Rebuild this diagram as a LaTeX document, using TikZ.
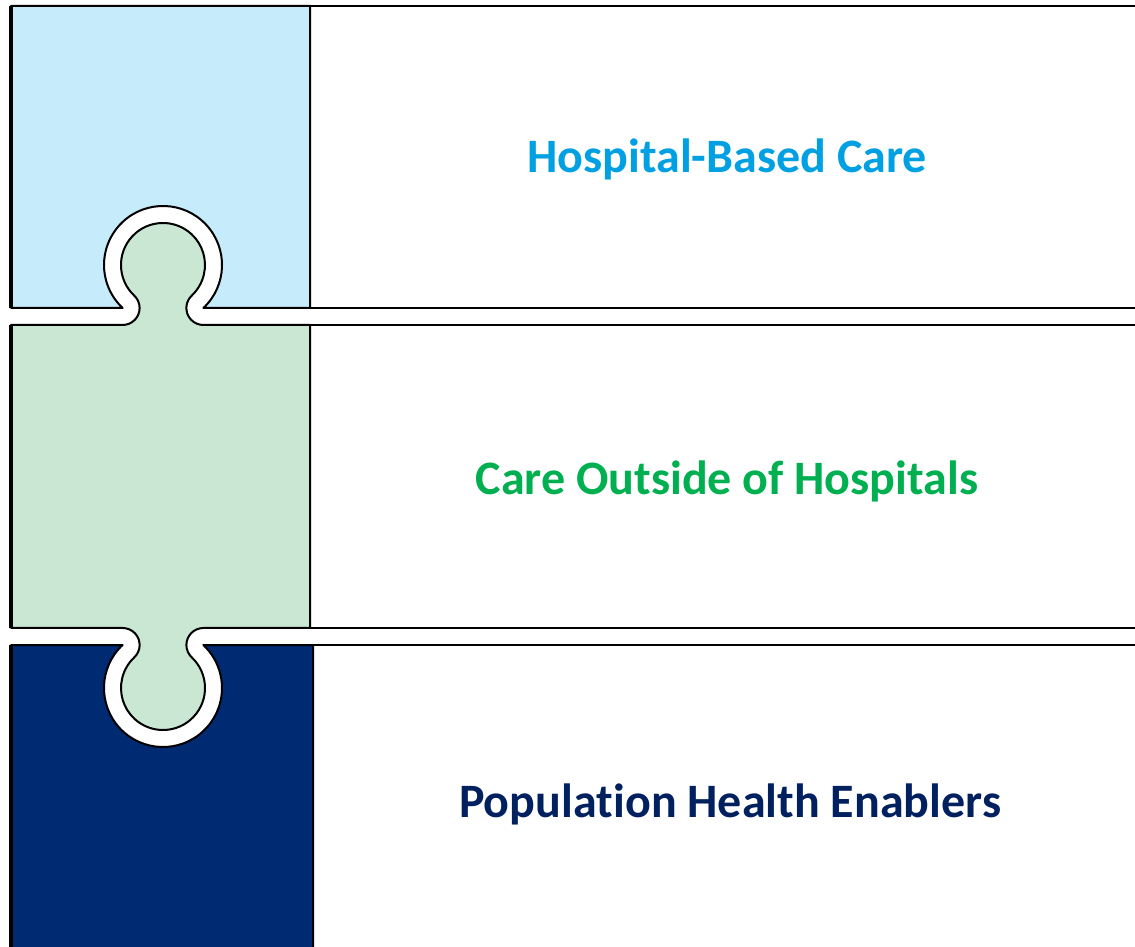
\documentclass[tikz,border=0pt]{standalone}
\usepackage{fontspec}
\setmainfont{Carlito}[Ligatures=NoCommon]
\usepackage{xcolor}
\usetikzlibrary{positioning}

\definecolor{hospblue}{RGB}{198,236,252}
\definecolor{caregreen}{RGB}{201,231,211}
\definecolor{popnavy}{RGB}{0,43,114}
\definecolor{hosptext}{RGB}{0,160,226}
\definecolor{caretext}{RGB}{0,176,80}
\definecolor{poptext}{RGB}{0,32,96}

\begin{document}
\begin{tikzpicture}[x=1pt, y=1pt,
        piece/.style={draw=black, line width=2pt, line join=round},
        band/.style={draw=black, line width=2pt},
        edge/.style={draw=black, line width=3.5pt},
        heading/.style={font=\fontsize{48}{52}\selectfont\bfseries, anchor=base},
    ]
    \useasboundingbox (0,0) rectangle (1135,946);
    \begin{scope}
        \clip (0,0) rectangle (1135,946);

        % Bands on the right
        \draw[band] (310,940) rectangle (1150,638);
        \draw[band] (310,621) rectangle (1150,318);
        \draw[band] (313,301) rectangle (1150,-10);

        % Top piece
        \draw[piece, fill=hospblue] (11,940) -- (310,940) -- (310,638) -- (203.4,638)
            arc[start angle=-46.8, end angle=226.8, radius=59] -- (11,638) -- cycle;

        % Middle piece
        \draw[piece, fill=caregreen] (11,621) -- (122.6,621)
            arc[start angle=-90, end angle=46.8, radius=17]
            arc[start angle=226.8, end angle=-46.8, radius=42]
            arc[start angle=133.2, end angle=270, radius=17]
            -- (310,621) -- (310,318) -- (203.4,318)
            arc[start angle=90, end angle=226.8, radius=17]
            arc[start angle=46.8, end angle=-226.8, radius=42]
            arc[start angle=-46.8, end angle=90, radius=17]
            -- (11,318) -- cycle;

        % Bottom piece
        \draw[piece, fill=popnavy] (11,-10) -- (11,301) -- (122.6,301)
            arc[start angle=133.2, end angle=406.8, radius=59]
            -- (313,301) -- (313,-10);

        % Left edges
        \draw[edge] (11,940) -- (11,638);
        \draw[edge] (11,621) -- (11,318);
        \draw[edge] (11,301) -- (11,-10);
    \end{scope}

    % Labels
    \node[heading, text=hosptext] (hospital) at (727,773) {Hospital-Based Care};
    \node[heading, text=caretext] (outside) at (727,451) {Care Outside of Hospitals};
    \node[heading, text=poptext] (enablers) at (730,129) {Popula\kern0pt tion Health Enablers};
\end{tikzpicture}
\end{document}
